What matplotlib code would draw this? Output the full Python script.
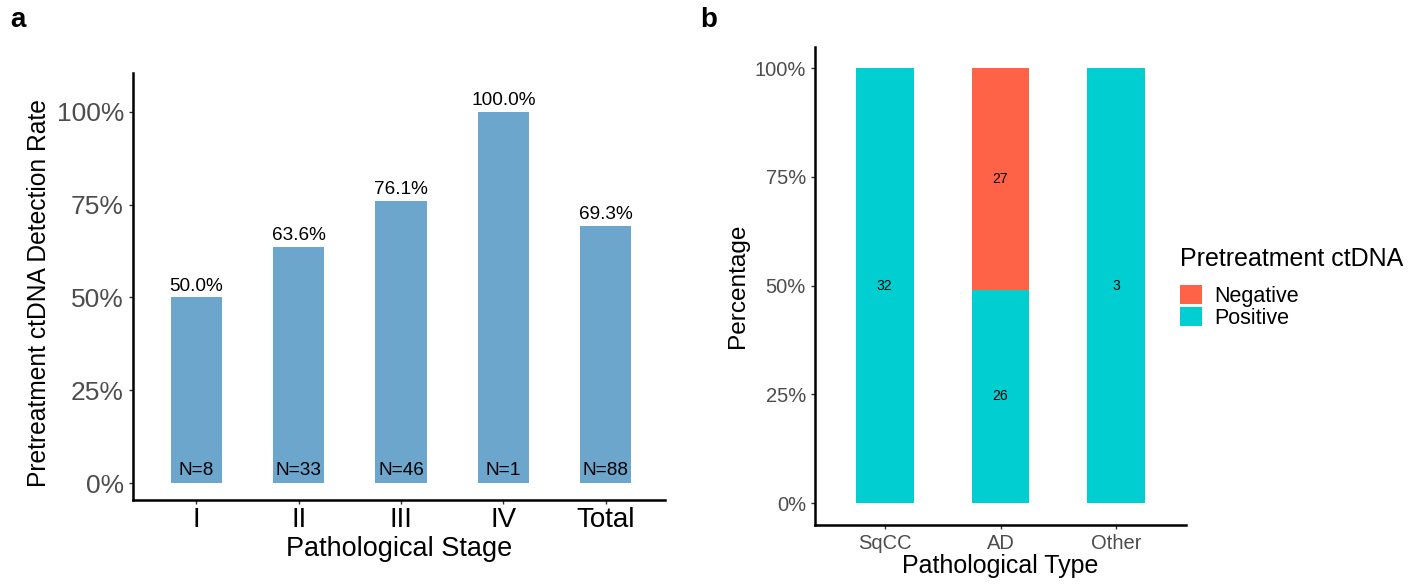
import numpy as np
import matplotlib
matplotlib.use('Agg')
import matplotlib.pyplot as plt
from matplotlib.patches import Patch
from matplotlib.ticker import FuncFormatter

plt.rcParams['font.family'] = ['Liberation Sans', 'DejaVu Sans']

# detection rate by stage
stages = ['I', 'II', 'III', 'IV', 'Total']
detection_rate = [50.0, 63.6, 76.1, 100.0, 69.3]
stage_n = [8, 33, 46, 1, 88]

# ctDNA status by pathological type
path_types = ['SqCC', 'AD', 'Other']
positive_n = [32, 26, 3]
negative_n = [0, 27, 0]

bar_blue = '#6CA6CD'
pos_col = '#00CED1'
neg_col = '#FF6347'
tick_grey = '#4D4D4D'

fig = plt.figure(figsize=(14.24, 5.84), dpi=100)

pct_fmt = FuncFormatter(lambda v, p: f'{v * 100:.0f}%')


def style_axes(ax):
    for s in ['top', 'right']:
        ax.spines[s].set_visible(False)
    for s in ['left', 'bottom']:
        ax.spines[s].set_linewidth(1.8)
        ax.spines[s].set_color('black')
    ax.tick_params(axis='both', length=3, width=1.0, color='#333333', direction='out')


# ---- panel a ----
ax1 = fig.add_axes([0.0934, 0.1438, 0.3736, 0.7312])
x1 = np.arange(1, len(stages) + 1)
rates = np.array(detection_rate) / 100
ax1.bar(x1, rates, width=0.5, color=bar_blue)
for xi, r, n in zip(x1, rates, stage_n):
    ax1.text(xi, r + 0.008, f'{r * 100:.1f}%', ha='center', va='bottom', fontsize=13.7)
    ax1.text(xi, 0.012, f'N={n}', ha='center', va='bottom', fontsize=13.7)
ax1.set_xlim(0.38, 5.58)
ax1.set_ylim(-0.0458, 1.105)
ax1.set_yticks([0, 0.25, 0.5, 0.75, 1.0])
ax1.yaxis.set_major_formatter(pct_fmt)
ax1.set_xticks(x1)
ax1.set_xticklabels(stages)
style_axes(ax1)
ax1.tick_params(axis='y', labelsize=19, labelcolor=tick_grey)
ax1.tick_params(axis='x', labelsize=20, labelcolor='black', pad=2)
ax1.set_xlabel('Pathological Stage', fontsize=19.5, labelpad=2)
ax1.set_ylabel('Pretreatment ctDNA Detection Rate', fontsize=17.7)
ax1.yaxis.set_label_coords(-0.155, 0.485)

# ---- panel b ----
ax2 = fig.add_axes([0.5723, 0.101, 0.2606, 0.8185])
x2 = np.arange(1, len(path_types) + 1)
tot = np.array(positive_n) + np.array(negative_n)
pos_frac = np.array(positive_n) / tot
neg_frac = np.array(negative_n) / tot
ax2.bar(x2, pos_frac, width=0.5, color=pos_col)
ax2.bar(x2, neg_frac, width=0.5, bottom=pos_frac, color=neg_col)
for xi, pf, nf, pn, nn in zip(x2, pos_frac, neg_frac, positive_n, negative_n):
    ax2.text(xi, pf / 2, str(pn), ha='center', va='center', fontsize=10)
    if nn > 0:
        ax2.text(xi, pf + nf / 2, str(nn), ha='center', va='center', fontsize=10)
ax2.set_xlim(0.4, 3.6)
ax2.set_ylim(-0.0506, 1.0483)
ax2.set_yticks([0, 0.25, 0.5, 0.75, 1.0])
ax2.yaxis.set_major_formatter(pct_fmt)
ax2.set_xticks(x2)
ax2.set_xticklabels(path_types)
style_axes(ax2)
ax2.tick_params(axis='both', labelsize=14.5, labelcolor=tick_grey)
ax2.set_xlabel('Pathological Type', fontsize=18, labelpad=1)
ax2.set_ylabel('Percentage', fontsize=17.6, labelpad=4)

handles = [Patch(facecolor=neg_col, label='Negative'), Patch(facecolor=pos_col, label='Positive')]
leg = fig.legend(handles=handles, title='Pretreatment ctDNA', loc='upper left',
                 bbox_to_anchor=(1180 / 1424, 1 - 247 / 584), frameon=False, fontsize=15.5,
                 title_fontsize=18, alignment='left', handlelength=1.0, handleheight=1.0,
                 labelspacing=0.0, handletextpad=0.6, borderaxespad=0, borderpad=0)
leg._legend_box.sep = 10

fig.text(0.007, 0.965, 'a', fontsize=20, fontweight='bold', va='center')
fig.text(0.492, 0.965, 'b', fontsize=20, fontweight='bold', va='center')

fig.savefig('out.png', dpi=100)
